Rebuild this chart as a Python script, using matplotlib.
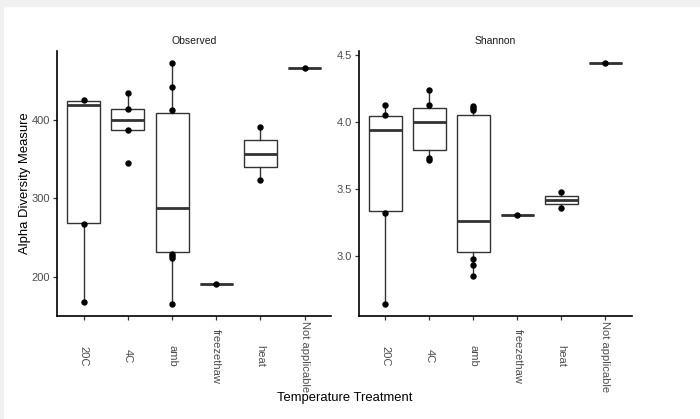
import matplotlib
matplotlib.use("Agg")
import matplotlib.pyplot as plt
from matplotlib.patches import Rectangle

plt.rcParams["font.family"] = ["Liberation Sans", "DejaVu Sans"]

categories = ["20C", "4C", "amb", "freezethaw", "heat", "Not applicable"]

# Observed richness: box stats
obs_q1 = [268, 387.5, 232, 190, 340, 467]
obs_med = [419.5, 400, 288, 190, 357, 467]
obs_q3 = [424, 414, 409, 190, 374, 467]
obs_lo = [168, 387, 165, 190, 324, 467]
obs_hi = [426, 435, 473, 190, 391, 467]
obs_points = [[426, 267, 168],
              [435, 414, 387, 345],
              [473, 443, 413, 229, 226, 224, 165],
              [190],
              [391, 324],
              [467]]

# Shannon index
shan_q1 = [3.332, 3.79, 3.03, 3.302, 3.389, 4.441]
shan_med = [3.941, 4.0, 3.26, 3.302, 3.418, 4.441]
shan_q3 = [4.045, 4.106, 4.052, 3.302, 3.446, 4.441]
shan_lo = [2.641, 3.715, 2.847, 3.302, 3.356, 4.441]
shan_hi = [4.126, 4.24, 4.121, 3.302, 3.475, 4.441]
shan_points = [[4.126, 4.05, 3.324, 2.641],
               [4.24, 4.126, 3.733, 3.715],
               [4.121, 4.104, 4.087, 2.98, 2.931, 2.847],
               [3.302],
               [3.475, 3.356],
               [4.441]]

obs_ticks = [200, 300, 400]
shan_ticks = [3.0, 3.5, 4.0, 4.5]

W, H = 700, 419
fig = plt.figure(figsize=(7, 4.19), dpi=100)

# viewer frame
fig.patches.append(Rectangle((0, 1 - 6 / H), 1, 6 / H, transform=fig.transFigure,
                             color="#f0f0f0", zorder=0))
fig.patches.append(Rectangle((0, 0), 3 / W, 1, transform=fig.transFigure,
                             color="#f0f0f0", zorder=0))


def panel(rect, title, q1, med, q3, lo, hi, points, ticks, fmt):
    ax = fig.add_axes(rect)
    pos = list(range(len(categories)))
    stats = [dict(q1=a, med=m, q3=b, whislo=l, whishi=h, label=c)
             for a, m, b, l, h, c in zip(q1, med, q3, lo, hi, categories)]
    edge = "#333333"
    ax.bxp(stats, positions=pos, widths=0.75, showfliers=False, showcaps=False,
           patch_artist=True,
           boxprops=dict(facecolor="white", edgecolor=edge, linewidth=1.0),
           medianprops=dict(color=edge, linewidth=2.0),
           whiskerprops=dict(color=edge, linewidth=1.0))
    for x, pts in zip(pos, points):
        ax.plot([x] * len(pts), pts, "o", color="black", markersize=4.6,
                markeredgewidth=0, zorder=5)
    allv = [v for pts in points for v in pts] + list(lo) + list(hi)
    vmin, vmax = min(allv), max(allv)
    pad = (vmax - vmin) * 0.05
    ax.set_ylim(vmin - pad, vmax + pad)
    ax.set_xlim(-0.6, len(categories) - 0.4)
    ax.set_yticks(ticks)
    ax.set_yticklabels([fmt.format(t) for t in ticks])
    ax.set_xticks(pos)
    ax.set_xticklabels(categories, rotation=270, va="center", ha="center")
    for s in ["top", "right"]:
        ax.spines[s].set_visible(False)
    for s in ["left", "bottom"]:
        ax.spines[s].set_linewidth(1.2)
        ax.spines[s].set_color("black")
    ax.tick_params(axis="both", length=3, width=0.9, color="#333333",
                   labelcolor="#4d4d4d", labelsize=8)
    ax.tick_params(axis="x", pad=26)
    ax.tick_params(axis="y", pad=2)
    ax.set_title(title, fontsize=7.5, color="#1a1a1a", pad=5)
    return ax


ax1 = panel([57.3 / W, 1 - 316 / H, (331 - 57.3) / W, (316 - 51) / H], "Observed",
            obs_q1, obs_med, obs_q3, obs_lo, obs_hi, obs_points, obs_ticks, "{:.0f}")
ax2 = panel([359 / W, 1 - 316 / H, (631.7 - 359) / W, (316 - 51) / H], "Shannon",
            shan_q1, shan_med, shan_q3, shan_lo, shan_hi, shan_points, shan_ticks, "{:.1f}")

fig.text(25 / W, 1 - 183.5 / H, "Alpha Diversity Measure", rotation=90,
         ha="center", va="center", fontsize=9.4)
fig.text(344.5 / W, 1 - 398 / H, "Temperature Treatment",
         ha="center", va="center", fontsize=9.4)

fig.savefig("out.png", dpi=100)
